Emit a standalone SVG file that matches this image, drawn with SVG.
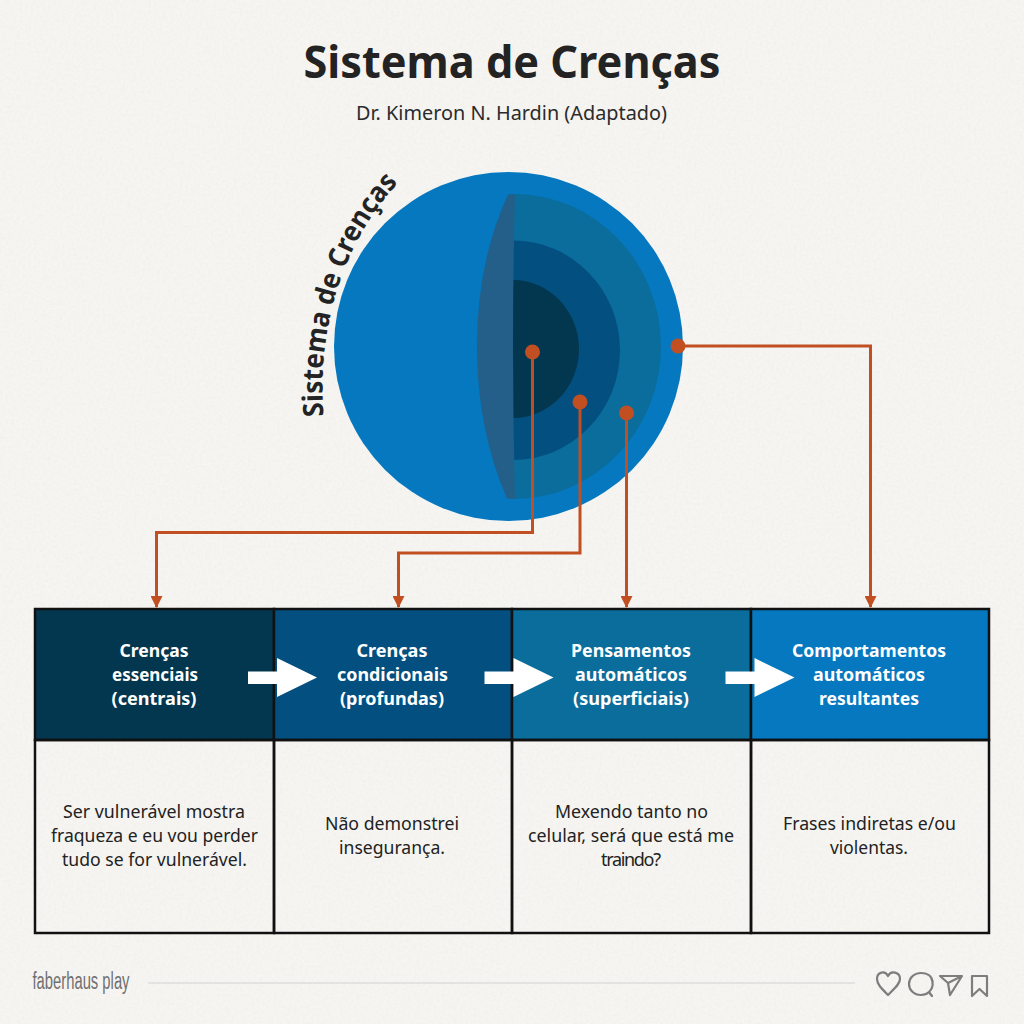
<svg xmlns="http://www.w3.org/2000/svg" width="1024" height="1024" viewBox="0 0 1024 1024">
<style>
text{font-family:"Noto Sans","Open Sans",sans-serif;text-anchor:middle}
.h{font-size:18px;font-weight:700;fill:#fff}
.b{font-size:18px;fill:#222}
.c{fill:none;stroke:#c14f22;stroke-width:3}
.d{fill:#c14f22}
.cell{stroke:#111;stroke-width:2.5}
.ic{fill:none;stroke:#7d7d7d;stroke-width:2.2;stroke-linejoin:round}
</style>
<defs>
<marker id="ah" markerUnits="userSpaceOnUse" markerWidth="12" markerHeight="12" refX="11" refY="6" orient="auto"><path d="M0 0L12 6L0 12Z" fill="#c14f22"/></marker>
<filter id="paper" x="0" y="0" width="100%" height="100%"><feTurbulence type="fractalNoise" baseFrequency="0.35" numOctaves="3" seed="4"/><feColorMatrix values="0 0 0 0 0.55 0 0 0 0 0.55 0 0 0 0 0.52 0 0 0 0.5 -0.17"/></filter>
<path id="arc" d="M324 420C316 340 338 245 400 181"/>
</defs>
<rect width="1024" height="1024" fill="#f6f5f2"/>
<rect width="1024" height="1024" filter="url(#paper)" opacity=".35"/>
<text x="512" y="78" font-size="45" font-weight="700" fill="#232323" textLength="417" lengthAdjust="spacingAndGlyphs">Sistema de Crenças</text>
<text x="511.500" y="120" font-size="20" fill="#2b2b2b" textLength="311" lengthAdjust="spacingAndGlyphs">Dr. Kimeron N. Hardin (Adaptado)</text>
<g id="sphere">
<circle cx="508.500" cy="346.500" r="174.500" fill="#0578bf"/>
<path d="M514 194A147 152.500 0 0 1 514 499Z" fill="#0a6d9c"/>
<path d="M513 240.500A107 109.750 0 0 1 513 460Z" fill="#034f80"/>
<path d="M513 280A66 69 0 0 1 513 418Z" fill="#03374f"/>
<path d="M508 194.500Q510 194 515 194Q511 346 515 499L507 498.500Q477 430 477 346Q477 262 508 194.500Z" fill="#235f88"/>
<text font-size="28" font-weight="700" fill="#232323" textLength="252" lengthAdjust="spacingAndGlyphs"><textPath href="#arc" startOffset="4" style="text-anchor:start">Sistema de Crenças</textPath></text>
</g>
<g id="table">
<g id="node1"><rect class="cell" x="35" y="609" width="239" height="131" fill="#03374f"/><rect class="cell" x="35" y="740" width="239" height="193" fill="none"/>
<text class="h" x="154" y="657" textLength="69" lengthAdjust="spacingAndGlyphs">Crenças</text><text class="h" x="155" y="681" textLength="86" lengthAdjust="spacingAndGlyphs">essenciais</text><text class="h" x="154" y="705" textLength="85" lengthAdjust="spacingAndGlyphs">(centrais)</text>
<text class="b" x="154" y="818" textLength="182" lengthAdjust="spacingAndGlyphs">Ser vulnerável mostra</text><text class="b" x="154.500" y="842" textLength="207" lengthAdjust="spacingAndGlyphs">fraqueza e eu vou perder</text><text class="b" x="154.500" y="866" textLength="185" lengthAdjust="spacingAndGlyphs">tudo se for vulnerável.</text></g>
<g id="node2"><rect class="cell" x="274" y="609" width="238" height="131" fill="#034f80"/><rect class="cell" x="274" y="740" width="238" height="193" fill="none"/>
<text class="h" x="392" y="657" textLength="71" lengthAdjust="spacingAndGlyphs">Crenças</text><text class="h" x="392.500" y="681" textLength="111" lengthAdjust="spacingAndGlyphs">condicionais</text><text class="h" x="392" y="705" textLength="104" lengthAdjust="spacingAndGlyphs">(profundas)</text>
<text class="b" x="392" y="830" textLength="134" lengthAdjust="spacingAndGlyphs">Não demonstrei</text><text class="b" x="392" y="854" textLength="106" lengthAdjust="spacingAndGlyphs">insegurança.</text></g>
<g id="node3"><rect class="cell" x="512" y="609" width="239" height="131" fill="#0a6d9c"/><rect class="cell" x="512" y="740" width="239" height="193" fill="none"/>
<text class="h" x="631" y="657" textLength="120" lengthAdjust="spacingAndGlyphs">Pensamentos</text><text class="h" x="631" y="681" textLength="112" lengthAdjust="spacingAndGlyphs">automáticos</text><text class="h" x="631" y="705" textLength="116" lengthAdjust="spacingAndGlyphs">(superficiais)</text>
<text class="b" x="631.500" y="818" textLength="153" lengthAdjust="spacingAndGlyphs">Mexendo tanto no</text><text class="b" x="631" y="842" textLength="206" lengthAdjust="spacingAndGlyphs">celular, será que está me</text><text class="b" x="631" y="866" font-size="17" textLength="60" lengthAdjust="spacing">traindo?</text></g>
<g id="node4"><rect class="cell" x="751" y="609" width="238" height="131" fill="#0578bf"/><rect class="cell" x="751" y="740" width="238" height="193" fill="none"/>
<text class="h" x="869" y="657" textLength="154" lengthAdjust="spacingAndGlyphs">Comportamentos</text><text class="h" x="869" y="681" textLength="112" lengthAdjust="spacingAndGlyphs">automáticos</text><text class="h" x="869" y="705" textLength="100" lengthAdjust="spacingAndGlyphs">resultantes</text>
<text class="b" x="869.500" y="830" textLength="173" lengthAdjust="spacingAndGlyphs">Frases indiretas e/ou</text><text class="b" x="869" y="854" textLength="78" lengthAdjust="spacingAndGlyphs">violentas.</text></g>
</g>
<g id="connectors">
<path class="c" d="M532.500 352V532.500H156.500V607" marker-end="url(#ah)"/>
<path class="c" d="M580 402V553H398.500V607" marker-end="url(#ah)"/>
<path class="c" d="M626.500 413V607" marker-end="url(#ah)"/>
<path class="c" d="M678 346H870.500V607" marker-end="url(#ah)"/>
<circle class="d" cx="532.500" cy="352" r="7.500"/><circle class="d" cx="580" cy="402" r="7.500"/><circle class="d" cx="626.500" cy="413" r="7.500"/><circle class="d" cx="678" cy="346" r="7.500"/>
<path fill="#fff" d="M248 671.500H277V658L317 677.500L277 697V684H248Z"/>
<path fill="#fff" d="M484.500 671.500H513.500V658L553.500 677.500L513.500 697V684H484.500Z"/>
<path fill="#fff" d="M725.500 671.500H754.500V658L794.500 677.500L754.500 697V684H725.500Z"/>
</g>
<g id="footer">
<text x="81" y="989" font-size="23" fill="#707070" style="font-family:'Liberation Sans',sans-serif" textLength="97" lengthAdjust="spacingAndGlyphs">faberhaus play</text>
<path d="M148 983H855" stroke="#dedddb" stroke-width="1.500"/>
<path class="ic" d="M888 995C881 988 877 984 877 979C877 972 885 970 888 976C891 970 900 972 900 979C900 984 895 988 888 995Z"/>
<path class="ic" d="M930 994L932 996L929 992C932 989 933 985 932.500 982C932 976 927 973 921 973C914 973 909 978 909 984C909 990 914 995 921 995C924 995 927 994 929 992"/>
<path class="ic" d="M940 976H962L950 995L948 983ZM948 983L962 976"/>
<path class="ic" d="M972 976H987V996L979.500 989L972 996Z"/>
</g>
</svg>
